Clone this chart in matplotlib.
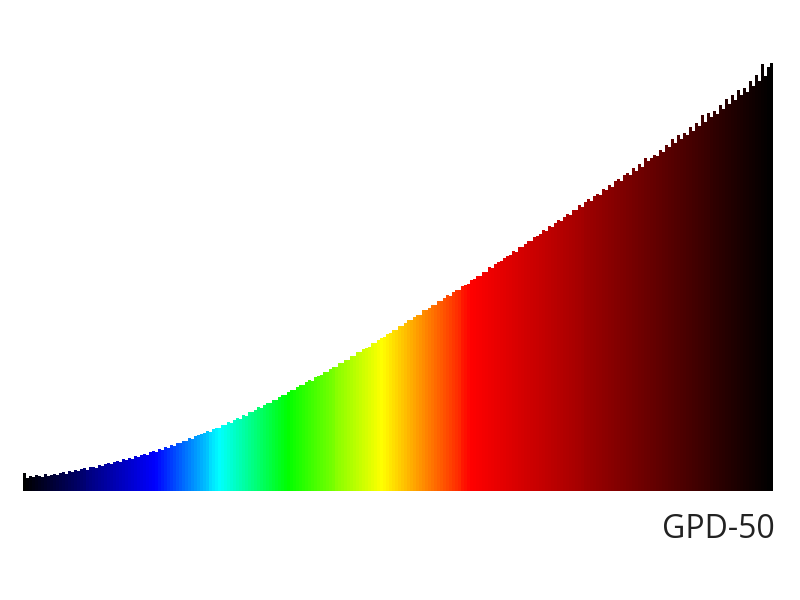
import matplotlib.pyplot as plt
import numpy as np
from matplotlib.colors import LinearSegmentedColormap

# histogram heights (250 bins, left to right)
counts = [18, 13, 15, 14, 16, 15, 14, 17, 15, 16,
          17, 16, 18, 19, 17, 20, 19, 21, 20, 22,
          23, 21, 24, 24, 23, 26, 25, 27, 28, 27,
          29, 30, 29, 32, 31, 33, 32, 35, 34, 36,
          37, 36, 39, 40, 39, 42, 41, 44, 43, 46,
          45, 48, 48, 50, 50, 53, 52, 55, 56, 57,
          58, 60, 59, 62, 63, 63, 66, 66, 69, 68,
          71, 73, 72, 76, 75, 79, 79, 81, 84, 83,
          86, 88, 88, 91, 91, 94, 96, 96, 99, 101,
          101, 104, 106, 106, 109, 111, 110, 114, 115, 116,
          119, 119, 122, 124, 124, 128, 128, 131, 131, 135,
          135, 139, 139, 142, 143, 144, 148, 148, 151, 153,
          154, 157, 158, 161, 161, 165, 165, 168, 171, 171,
          174, 176, 176, 181, 181, 183, 186, 186, 190, 190,
          193, 196, 195, 199, 201, 201, 205, 206, 207, 211,
          212, 215, 215, 219, 219, 224, 223, 227, 229, 230,
          233, 235, 236, 240, 239, 244, 244, 247, 250, 250,
          254, 255, 257, 261, 260, 265, 264, 268, 271, 270,
          274, 277, 276, 281, 281, 286, 284, 289, 292, 290,
          295, 297, 296, 302, 301, 306, 304, 310, 312, 310,
          316, 318, 316, 323, 320, 327, 324, 333, 330, 333,
          336, 335, 341, 339, 346, 344, 352, 348, 356, 352,
          358, 356, 364, 360, 368, 365, 376, 369, 378, 374,
          380, 377, 386, 382, 392, 387, 396, 391, 401, 396,
          403, 399, 410, 405, 416, 410, 427, 415, 424, 428]
label = "GPD-50"

# spectrum colormap
stops = [0.0, 0.175, 0.263, 0.352, 0.479, 0.599, 1.0]
colors = ["#000000", "#0000ff", "#00ffff", "#00ff00", "#ffff00", "#ff0000", "#000000"]
cmap = LinearSegmentedColormap.from_list("spec", list(zip(stops, colors)))

n = len(counts)
x = np.arange(n)
frac = (x + 0.5) / n

fig = plt.figure(figsize=(8, 6), dpi=100)
ax = fig.add_axes([23 / 800, 109 / 600, 750 / 800, 451 / 600])
ax.bar(x, counts, width=1.0, align="edge", color=cmap(frac), linewidth=0)
ax.set_xlim(0, n)
ax.set_ylim(0, 451)
ax.axis("off")

fig.text(775 / 800, 1 - 530 / 600, label, ha="right", va="center",
         fontsize=23, color="#222222", family="Open Sans")

fig.savefig("out.png", dpi=100, facecolor="white")
